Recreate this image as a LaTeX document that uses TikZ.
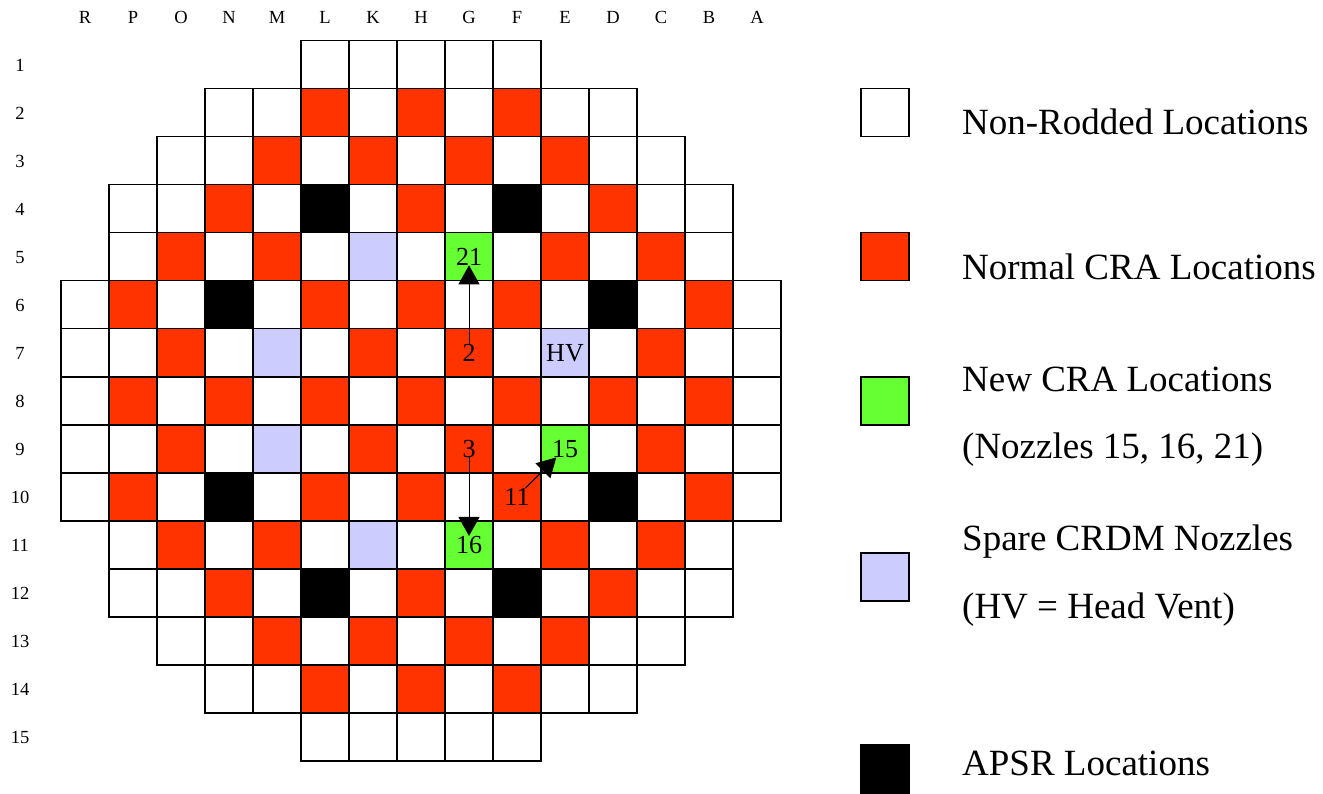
\documentclass[tikz,border=0pt]{standalone}
\usepackage{fontspec}
\setmainfont{Liberation Serif}
\usetikzlibrary{arrows.meta}
\definecolor{craRed}{RGB}{255,51,0}
\definecolor{craGreen}{RGB}{102,255,51}
\definecolor{spareBlue}{RGB}{204,204,255}
\tikzset{
  cell/.style={draw=black, line width=1.6pt, minimum size=48pt, inner sep=0pt, outer sep=0pt},
  num/.style={inner sep=0pt, outer sep=0pt, font=\fontsize{26}{30}\selectfont},
  lbl/.style={anchor=base, font=\fontsize{18.5}{22}\selectfont},
  legtext/.style={anchor=base west, inner sep=0pt, font=\fontsize{37}{44}\selectfont},
  nozzle/.style={black, line width=1pt, -{Triangle[length=19pt,width=21pt]}}
}
\begin{document}
\begin{tikzpicture}[x=1pt,y=-1pt]
\useasboundingbox (0,0) rectangle (1323,794);
% column and row labels
\foreach \col [count=\i from 0] in {R,P,O,N,M,L,K,H,G,F,E,D,C,B,A}
  \node[lbl] (col\col) at ({85+48*\i},23.5) {\col};
\foreach \r in {1,...,15}
  \node[lbl] (row\r) at (20,{23.7+48*\r}) {\r};
% core map: row/first column/last column
\foreach \r/\s/\e in {1/5/9,2/3/11,3/2/12,4/1/13,5/1/13,6/0/14,7/0/14,8/0/14,9/0/14,10/0/14,11/1/13,12/1/13,13/2/12,14/3/11,15/5/9}
  \foreach \i in {\s,...,\e}
    \node[cell] (c\i-\r) at ({85+48*\i},{16.7+48*\r}) {};
% normal CRA
\foreach \i/\r in {5/2,7/2,9/2, 4/3,6/3,8/3,10/3, 3/4,7/4,11/4, 2/5,4/5,10/5,12/5,
  1/6,5/6,7/6,9/6,13/6, 2/7,6/7,8/7,12/7, 1/8,3/8,5/8,7/8,9/8,11/8,13/8,
  2/9,6/9,8/9,12/9, 1/10,5/10,7/10,9/10,13/10, 2/11,4/11,10/11,12/11,
  3/12,7/12,11/12, 4/13,6/13,8/13,10/13, 5/14,7/14,9/14}
  \filldraw[cell, fill=craRed] (c\i-\r.south west) rectangle (c\i-\r.north east);
% APSR
\foreach \i/\r in {5/4,9/4,3/6,11/6,3/10,11/10,5/12,9/12}
  \filldraw[cell, fill=black] (c\i-\r.south west) rectangle (c\i-\r.north east);
% spare nozzles
\foreach \i/\r in {6/5,4/7,10/7,4/9,6/11}
  \filldraw[cell, fill=spareBlue] (c\i-\r.south west) rectangle (c\i-\r.north east);
% new CRA
\foreach \i/\r in {8/5,10/9,8/11}
  \filldraw[cell, fill=craGreen] (c\i-\r.south west) rectangle (c\i-\r.north east);
% nozzle numbers
\node[num] (n21) at (c8-5) {21};
\node[num] (n2) at (c8-7) {2};
\node[num] (nHV) at (c10-7) {HV};
\node[num] (n3) at (c8-9) {3};
\node[num] (n15) at (c10-9) {15};
\node[num] (n11) at (c9-10) {11};
\node[num] (n16) at (c8-11) {16};
\draw[nozzle] (n2) -- (n21);
\draw[nozzle] (n3) -- (n16);
\draw[nozzle] (n11) -- (n15);
% legend
\node[cell] (keyNon) at (885,112.7) {};
\node[cell, fill=craRed] (keyCRA) at (885,256.7) {};
\node[cell, fill=craGreen] (keyNew) at (885,400.7) {};
\node[cell, fill=spareBlue] (keySpare) at (885,576.7) {};
\node[cell, fill=black] (keyAPSR) at (885,768.7) {};
\node[legtext] (txtNon) at (962,135) {Non-Rodded Locations};
\node[legtext] (txtCRA) at (962,280) {Normal CRA Locations};
\node[legtext] (txtNew) at (962,391.7) {New CRA Locations};
\node[legtext] (txtNewB) at (962,458) {(Nozzles 15, 16, 21)};
\node[legtext] (txtSpare) at (962,550) {Spare CRDM Nozzles};
\node[legtext] (txtSpareB) at (962,618) {(HV = Head Vent)};
\node[legtext] (txtAPSR) at (962,775) {APSR Locations};
\end{tikzpicture}
\end{document}
